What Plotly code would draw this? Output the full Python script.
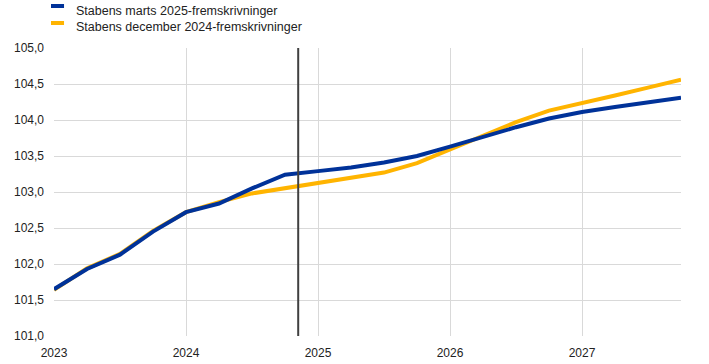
import plotly.graph_objects as go

quarters = list(range(20))  # 2023Q1 .. 2027Q4
year_ticks = [0, 4, 8, 12, 16]
year_labels = ["2023", "2024", "2025", "2026", "2027"]

march_2025 = [101.65, 101.93, 102.13, 102.45, 102.72, 102.84, 103.05, 103.24,
              103.29, 103.34, 103.41, 103.50, 103.63, 103.77, 103.90, 104.02,
              104.11, 104.18, 104.25, 104.31]
dec_2024 = [101.64, 101.94, 102.14, 102.46, 102.72, 102.86, 102.98, 103.05,
            103.13, 103.19, 103.27, 103.40, 103.59, 103.79, 103.97, 104.13,
            104.23, 104.34, 104.45, 104.56]
cutoff_x = 7.4

names = ["Stabens marts 2025-fremskrivninger", "Stabens december 2024-fremskrivninger"]
colors = ["#003299", "#ffb400"]

fig = go.Figure()
fig.add_trace(go.Scatter(x=quarters, y=dec_2024, mode="lines", name=names[1],
                         line=dict(color=colors[1], width=4), showlegend=False))
fig.add_trace(go.Scatter(x=quarters, y=march_2025, mode="lines", name=names[0],
                         line=dict(color=colors[0], width=4), showlegend=False))

fig.add_shape(type="line", x0=cutoff_x, x1=cutoff_x, y0=0, y1=1, xref="x", yref="paper",
              line=dict(color="#404040", width=2), layer="above")

# custom legend (swatches + labels) above the plot
sw_y = [1.1458, 1.0868]
tx_y = [1.1285, 1.0729]
for i in range(2):
    fig.add_shape(type="line", xref="paper", yref="paper",
                  x0=-0.0048, x1=0.016, y0=sw_y[i], y1=sw_y[i],
                  line=dict(color=colors[i], width=4))
    fig.add_annotation(text=names[i], xref="paper", yref="paper",
                       x=0.0319, y=tx_y[i], xanchor="left", yanchor="middle",
                       showarrow=False, font=dict(size=12.5, color="#222222"))

fig.update_layout(
    width=709, height=364,
    margin=dict(l=54, r=28, t=48, b=28, autoexpand=False),
    paper_bgcolor="white", plot_bgcolor="white",
    separators=",.",
    font=dict(family="Liberation Sans, Arial, sans-serif", size=12, color="#222222"),
    showlegend=False,
    xaxis=dict(range=[0, 19], tickvals=year_ticks, ticktext=year_labels,
               showgrid=True, gridcolor="#d9d9d9", gridwidth=1, zeroline=False,
               showline=False, ticks="", tickfont=dict(size=12), automargin=False,
               ticklabelstandoff=8),
    yaxis=dict(range=[101, 105], dtick=0.5, tickformat=".1f",
               showgrid=True, gridcolor="#d9d9d9", gridwidth=1, zeroline=False,
               showline=False, ticks="", tickfont=dict(size=12), automargin=False,
               ticklabelstandoff=9),
)

fig.write_html("out.html", config={"displayModeBar": False},
               post_script="document.body.style.margin='0';")
